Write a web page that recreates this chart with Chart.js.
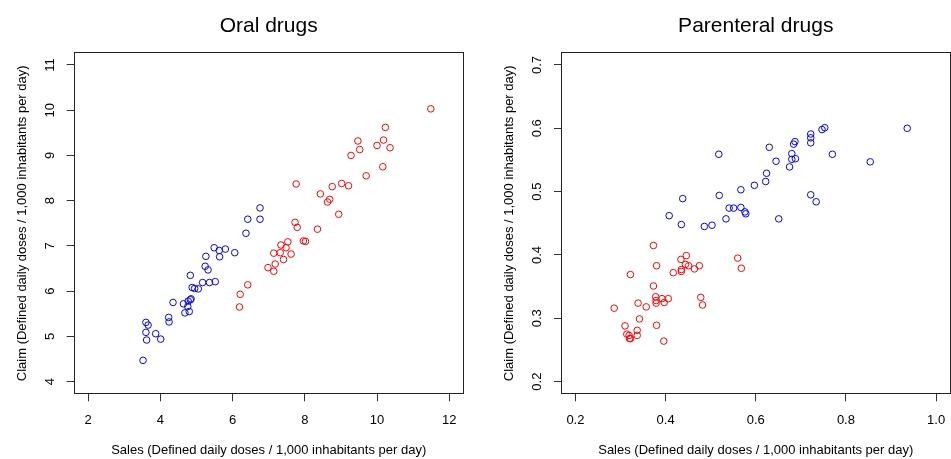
<!DOCTYPE html>
<html>
<head>
<meta charset="utf-8">
<script src="https://cdn.jsdelivr.net/npm/chart.js@4/dist/chart.umd.min.js"></script>
<style>
  html, body { margin: 0; padding: 0; background: #fff; }
  #wrap { position: relative; width: 951px; height: 459px; overflow: hidden; background: #fff; }
  .pane { position: absolute; top: 0; }
</style>
</head>
<body>
<div id="wrap">
  <div class="pane" style="left:0px;"><canvas id="oral" width="480" height="459"></canvas></div>
  <div class="pane" style="left:480px;"><canvas id="par" width="471" height="459"></canvas></div>
</div>
<script>
// ---------------- DATA ----------------
const titles = ["Oral drugs", "Parenteral drugs"];
const xTitle = "Sales (Defined daily doses / 1,000 inhabitants per day)";
const yTitle = "Claim (Defined daily doses / 1,000 inhabitants per day)";

const oralXTicks = [2, 4, 6, 8, 10, 12];
const oralYTicks = [4, 5, 6, 7, 8, 9, 10, 11];
const parXTicks = [0.2, 0.4, 0.6, 0.8, 1.0];
const parYTicks = [0.2, 0.3, 0.4, 0.5, 0.6, 0.7];

// Oral drugs – blue group
const oralBlueSales = [6.76,6.42,6.76,6.37,5.49,5.80,5.63,5.64,5.26,6.06,5.24,5.32,4.83,5.17,5.36,5.52,4.88,4.95,5.05,4.35,4.64,4.77,4.83,4.85,4.76,4.68,4.80,4.23,4.24,3.60,3.66,3.60,3.87,3.62,4.01,3.52];
const oralBlueClaim = [7.84,7.59,7.59,7.28,6.96,6.93,6.90,6.76,6.77,6.85,6.55,6.47,6.35,6.19,6.19,6.21,6.08,6.06,6.05,5.75,5.72,5.78,5.81,5.83,5.66,5.52,5.55,5.42,5.32,5.31,5.25,5.09,5.06,4.92,4.94,4.47];
// Oral drugs – red group
const oralRedSales = [11.49,10.23,9.47,10.18,10.00,9.52,10.36,9.28,10.16,9.70,7.76,9.02,8.76,9.21,8.43,8.69,8.63,8.94,7.73,7.79,8.35,7.34,7.53,7.96,8.02,7.14,7.32,7.48,7.62,7.41,7.18,6.98,7.14,6.42,6.21,6.19];
const oralRedClaim = [10.03,9.62,9.32,9.34,9.22,9.13,9.17,9.00,8.75,8.55,8.37,8.38,8.31,8.33,8.15,8.03,7.97,7.70,7.52,7.41,7.37,7.02,7.09,7.11,7.10,6.84,6.85,6.96,6.82,6.70,6.60,6.52,6.44,6.14,5.93,5.65];

// Parenteral drugs – blue group
const parBlueSales = [0.936,0.753,0.747,0.722,0.722,0.722,0.687,0.684,0.630,0.518,0.770,0.680,0.680,0.688,0.645,0.854,0.675,0.624,0.622,0.597,0.567,0.722,0.734,0.519,0.438,0.541,0.551,0.567,0.576,0.578,0.408,0.534,0.651,0.435,0.486,0.503];
const parBlueClaim = [0.600,0.601,0.598,0.591,0.585,0.577,0.579,0.575,0.570,0.559,0.559,0.560,0.551,0.552,0.548,0.547,0.539,0.529,0.516,0.510,0.503,0.495,0.484,0.494,0.489,0.474,0.474,0.475,0.468,0.465,0.462,0.457,0.457,0.448,0.445,0.447];
// Parenteral drugs – red group
const parRedSales = [0.373,0.446,0.434,0.560,0.380,0.444,0.451,0.475,0.568,0.435,0.464,0.435,0.417,0.322,0.373,0.378,0.392,0.406,0.379,0.379,0.397,0.478,0.482,0.339,0.357,0.286,0.342,0.310,0.380,0.337,0.337,0.314,0.319,0.320,0.322,0.396];
const parRedClaim = [0.415,0.399,0.393,0.395,0.383,0.385,0.383,0.383,0.379,0.377,0.378,0.374,0.372,0.369,0.351,0.334,0.331,0.331,0.328,0.324,0.325,0.333,0.321,0.324,0.318,0.316,0.299,0.288,0.289,0.281,0.273,0.275,0.273,0.268,0.268,0.264];

// ---------------- HELPERS ----------------
const FONT = "'Liberation Sans', Arial, Helvetica, sans-serif";
const pts = (xs, ys) => xs.map((x, i) => ({ x: x, y: ys[i] }));
const pad4 = (lo, hi) => { const d = (hi - lo) * 0.04; return [lo - d, hi + d]; };

function makeBoxPlugin(title, fmt) {
  return {
    id: 'rbox',
    afterDraw(chart) {
      const { ctx, chartArea: a } = chart;
      ctx.save();
      // plot box
      ctx.strokeStyle = '#222';
      ctx.lineWidth = 1;
      const l = Math.round(a.left) + 0.5, t = Math.round(a.top) + 0.5;
      const r = Math.round(a.right) - 0.5, b = Math.round(a.bottom) - 0.5;
      ctx.strokeRect(l, t, r - l, b - t);
      // main title centred over the plot region
      ctx.fillStyle = '#000';
      ctx.font = '21px ' + FONT;
      ctx.textAlign = 'center';
      ctx.textBaseline = 'alphabetic';
      ctx.fillText(title, (a.left + a.right) / 2, 31.7);
      // rotated y tick labels (parallel to the axis)
      const ys = chart.scales.y;
      ctx.font = '13px ' + FONT;
      ctx.textBaseline = 'middle';
      ys.ticks.forEach(tk => {
        const py = ys.getPixelForValue(tk.value);
        ctx.save();
        ctx.translate(a.left - 23.5, py);
        ctx.rotate(-Math.PI / 2);
        ctx.fillText(fmt(tk.value), 0, 0);
        ctx.restore();
      });
      ctx.restore();
    }
  };
}

function makeChart(id, title, blue, red, xT, yT, fmt, areaLeft, padRight) {
  const xr = pad4(xT[0], xT[xT.length - 1]);
  const yr = pad4(yT[0], yT[yT.length - 1]);
  return new Chart(document.getElementById(id), {
    type: 'scatter',
    data: {
      datasets: [
        { data: blue, borderColor: 'rgb(0,0,255)', backgroundColor: 'rgba(0,0,0,0)', pointRadius: 3.3, pointBorderWidth: 1, pointHoverRadius: 3.3 },
        { data: red, borderColor: 'rgb(255,0,0)', backgroundColor: 'rgba(0,0,0,0)', pointRadius: 3.3, pointBorderWidth: 1, pointHoverRadius: 3.3 }
      ]
    },
    options: {
      responsive: false,
      animation: false,
      devicePixelRatio: 1,
      layout: { autoPadding: false, padding: { left: 0, right: padRight, top: 52.3, bottom: 0 } },
      plugins: {
        legend: { display: false },
        tooltip: { enabled: false },
        title: { display: false }
      },
      scales: {
        x: {
          type: 'linear', min: xr[0], max: xr[1],
          afterBuildTicks: s => { s.ticks = xT.map(v => ({ value: v })); },
          afterFit: s => { s.height = 64.7; s.paddingLeft = 0; s.paddingRight = 0; },
          grid: { display: true, drawOnChartArea: false, drawTicks: true, tickLength: 7, color: '#333', lineWidth: 1 },
          border: { display: false },
          ticks: { color: '#000', font: { family: FONT, size: 13 }, padding: 11, maxRotation: 0, callback: v => fmt(v) },
          title: { display: true, text: xTitle, color: '#000', font: { family: FONT, size: 13 }, padding: { top: 0, bottom: 1 } }
        },
        y: {
          type: 'linear', min: yr[0], max: yr[1],
          afterBuildTicks: s => { s.ticks = yT.map(v => ({ value: v })); },
          afterFit: s => { s.width = areaLeft; s.paddingTop = 0; s.paddingBottom = 0; },
          grid: { display: true, drawOnChartArea: false, drawTicks: true, tickLength: 7, color: '#333', lineWidth: 1 },
          border: { display: false },
          ticks: { display: false },
          title: { display: true, text: yTitle, color: '#000', font: { family: FONT, size: 13 }, padding: { top: areaLeft - 59.5, bottom: 0 } }
        }
      }
    },
    plugins: [makeBoxPlugin(title, fmt)]
  });
}

makeChart('oral', titles[0], pts(oralBlueSales, oralBlueClaim), pts(oralRedSales, oralRedClaim),
  oralXTicks, oralYTicks, v => String(v), 73.7, 16.3);
makeChart('par', titles[1], pts(parBlueSales, parBlueClaim), pts(parRedSales, parRedClaim),
  parXTicks, parYTicks, v => v.toFixed(1), 81, 0.5);
</script>
</body>
</html>
